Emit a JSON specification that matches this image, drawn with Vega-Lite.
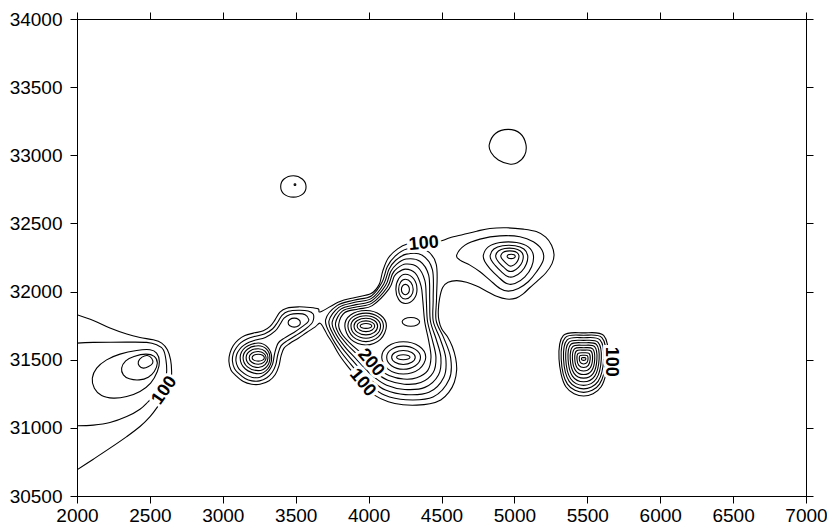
{
"$schema":"https://vega.github.io/schema/vega-lite/v6.json",
"width":729,"height":477,
"autosize":{"type":"none"},
"padding":{"left":77,"top":19,"right":21,"bottom":33},
"background":"white",
"config":{"view":{"stroke":"black","strokeWidth":1},
"axis":{"grid":false,"title":null,"domainColor":"black","tickColor":"black","labelColor":"black","labelFont":"Liberation Sans","labelFontSize":19,"tickSize":7,"labelPadding":3,"domainWidth":1,"tickWidth":1,"labelFlush":false,"labelOverlap":false,"labelBound":false},
"axisLeft":{"labelPadding":8},
"axisBottom":{"labelPadding":3}},
"resolve":{"axis":{"x":"independent","y":"independent"}},
"datasets":{
"o":[
{"g":"a1","x":2000,"y":31830},{"g":"a1","x":2112,"y":31788},{"g":"a1","x":2226,"y":31732},{"g":"a1","x":2341,"y":31688},{"g":"a1","x":2432,"y":31663},{"g":"a1","x":2523,"y":31646},{"g":"a1","x":2581,"y":31622},{"g":"a1","x":2620,"y":31573},{"g":"a1","x":2642,"y":31499},{"g":"a1","x":2649,"y":31414},{"g":"a1","x":2645,"y":31350},{"g":"a1","x":2625,"y":31290},{"g":"a1","x":2590,"y":31220},{"g":"a1","x":2551,"y":31152},{"g":"a1","x":2501,"y":31083},{"g":"a1","x":2432,"y":31010},{"g":"a1","x":2341,"y":30936},{"g":"a1","x":2226,"y":30851},{"g":"a1","x":2112,"y":30770},{"g":"a1","x":2000,"y":30692},
{"g":"a2","x":2000,"y":31622},{"g":"a2","x":2112,"y":31627},{"g":"a2","x":2341,"y":31629},{"g":"a2","x":2478,"y":31627},{"g":"a2","x":2546,"y":31609},{"g":"a2","x":2592,"y":31573},{"g":"a2","x":2610,"y":31499},{"g":"a2","x":2615,"y":31414},{"g":"a2","x":2605,"y":31340},{"g":"a2","x":2570,"y":31275},{"g":"a2","x":2523,"y":31225},{"g":"a2","x":2489,"y":31193},{"g":"a2","x":2432,"y":31137},{"g":"a2","x":2341,"y":31083},{"g":"a2","x":2226,"y":31039},{"g":"a2","x":2112,"y":31020},{"g":"a2","x":2000,"y":31015}
],
"c":[
{"g":"le1","x":2105,"y":31365},{"g":"le1","x":2135,"y":31438},{"g":"le1","x":2203,"y":31499},{"g":"le1","x":2295,"y":31541},{"g":"le1","x":2409,"y":31568},{"g":"le1","x":2501,"y":31573},{"g":"le1","x":2546,"y":31548},{"g":"le1","x":2565,"y":31487},{"g":"le1","x":2551,"y":31414},{"g":"le1","x":2505,"y":31328},{"g":"le1","x":2432,"y":31267},{"g":"le1","x":2341,"y":31230},{"g":"le1","x":2249,"y":31218},{"g":"le1","x":2169,"y":31237},{"g":"le1","x":2119,"y":31291},
{"g":"le2","x":2306,"y":31438},{"g":"le2","x":2334,"y":31492},{"g":"le2","x":2391,"y":31524},{"g":"le2","x":2473,"y":31541},{"g":"le2","x":2530,"y":31524},{"g":"le2","x":2551,"y":31475},{"g":"le2","x":2530,"y":31414},{"g":"le2","x":2489,"y":31372},{"g":"le2","x":2427,"y":31352},{"g":"le2","x":2359,"y":31360},{"g":"le2","x":2318,"y":31389},
{"g":"le3","x":2421,"y":31487},{"g":"le3","x":2446,"y":31519},{"g":"le3","x":2482,"y":31531},{"g":"le3","x":2512,"y":31511},{"g":"le3","x":2519,"y":31475},{"g":"le3","x":2491,"y":31450},{"g":"le3","x":2455,"y":31438},{"g":"le3","x":2427,"y":31455},
{"g":"s1","x":3484,"y":32850},{"g":"s1","x":3545,"y":32826},{"g":"s1","x":3571,"y":32771},{"g":"s1","x":3548,"y":32715},{"g":"s1","x":3484,"y":32693},{"g":"s1","x":3420,"y":32715},{"g":"s1","x":3397,"y":32771},{"g":"s1","x":3420,"y":32826},
{"g":"s1d","x":3495,"y":32790},{"g":"s1d","x":3501,"y":32784},{"g":"s1d","x":3495,"y":32778},{"g":"s1d","x":3489,"y":32784},
{"g":"s2","x":4958,"y":33190},{"g":"s2","x":5040,"y":33160},{"g":"s2","x":5079,"y":33080},{"g":"s2","x":5070,"y":33000},{"g":"s2","x":5020,"y":32945},{"g":"s2","x":4965,"y":32936},{"g":"s2","x":4890,"y":32965},{"g":"s2","x":4840,"y":33020},{"g":"s2","x":4828,"y":33080},{"g":"s2","x":4870,"y":33160},
{"g":"c100","x":3672,"y":31852},{"g":"c100","x":3799,"y":31926},{"g":"c100","x":3908,"y":31957},{"g":"c100","x":4017,"y":31986},{"g":"c100","x":4072,"y":32051},{"g":"c100","x":4097,"y":32150},{"g":"c100","x":4134,"y":32245},{"g":"c100","x":4199,"y":32313},{"g":"c100","x":4265,"y":32349},{"g":"c100","x":4380,"y":32360},{"g":"c100","x":4501,"y":32373},{"g":"c100","x":4558,"y":32395},{"g":"c100","x":4649,"y":32419},{"g":"c100","x":4741,"y":32443},{"g":"c100","x":4832,"y":32463},{"g":"c100","x":4947,"y":32468},{"g":"c100","x":5061,"y":32458},{"g":"c100","x":5150,"y":32440},{"g":"c100","x":5215,"y":32400},{"g":"c100","x":5255,"y":32340},{"g":"c100","x":5272,"y":32270},{"g":"c100","x":5258,"y":32205},{"g":"c100","x":5218,"y":32140},{"g":"c100","x":5160,"y":32080},{"g":"c100","x":5107,"y":32030},{"g":"c100","x":5062,"y":31985},{"g":"c100","x":5012,"y":31952},{"g":"c100","x":4947,"y":31945},{"g":"c100","x":4878,"y":31965},{"g":"c100","x":4809,"y":32003},{"g":"c100","x":4741,"y":32040},{"g":"c100","x":4672,"y":32068},{"g":"c100","x":4604,"y":32080},{"g":"c100","x":4545,"y":32068},{"g":"c100","x":4508,"y":32030},{"g":"c100","x":4487,"y":31950},{"g":"c100","x":4478,"y":31860},{"g":"c100","x":4482,"y":31790},{"g":"c100","x":4501,"y":31727},{"g":"c100","x":4540,"y":31670},{"g":"c100","x":4574,"y":31597},{"g":"c100","x":4597,"y":31511},{"g":"c100","x":4604,"y":31425},{"g":"c100","x":4588,"y":31335},{"g":"c100","x":4550,"y":31260},{"g":"c100","x":4495,"y":31205},{"g":"c100","x":4420,"y":31177},{"g":"c100","x":4330,"y":31167},{"g":"c100","x":4236,"y":31170},{"g":"c100","x":4135,"y":31192},{"g":"c100","x":4040,"y":31240},{"g":"c100","x":3962,"y":31320},{"g":"c100","x":3905,"y":31390},{"g":"c100","x":3854,"y":31455},{"g":"c100","x":3799,"y":31535},{"g":"c100","x":3756,"y":31615},{"g":"c100","x":3719,"y":31678},{"g":"c100","x":3697,"y":31722},{"g":"c100","x":3667,"y":31768},{"g":"c100","x":3632,"y":31739},{"g":"c100","x":3575,"y":31700},{"g":"c100","x":3518,"y":31658},{"g":"c100","x":3461,"y":31621},{"g":"c100","x":3420,"y":31585},{"g":"c100","x":3400,"y":31530},{"g":"c100","x":3385,"y":31455},{"g":"c100","x":3360,"y":31392},{"g":"c100","x":3318,"y":31346},{"g":"c100","x":3255,"y":31320},{"g":"c100","x":3198,"y":31320},{"g":"c100","x":3141,"y":31340},{"g":"c100","x":3084,"y":31389},{"g":"c100","x":3056,"y":31425},{"g":"c100","x":3042,"y":31487},{"g":"c100","x":3049,"y":31548},{"g":"c100","x":3072,"y":31604},{"g":"c100","x":3106,"y":31646},{"g":"c100","x":3152,"y":31677},{"g":"c100","x":3209,"y":31695},{"g":"c100","x":3278,"y":31712},{"g":"c100","x":3324,"y":31744},{"g":"c100","x":3358,"y":31792},{"g":"c100","x":3392,"y":31849},{"g":"c100","x":3438,"y":31878},{"g":"c100","x":3518,"y":31888},{"g":"c100","x":3598,"y":31883},{"g":"c100","x":3655,"y":31873},
{"g":"l150","x":3622,"y":31795},{"g":"l150","x":3608,"y":31764},{"g":"l150","x":3563,"y":31722},{"g":"l150","x":3503,"y":31679},{"g":"l150","x":3443,"y":31640},{"g":"l150","x":3400,"y":31603},{"g":"l150","x":3378,"y":31540},{"g":"l150","x":3363,"y":31462},{"g":"l150","x":3338,"y":31406},{"g":"l150","x":3302,"y":31368},{"g":"l150","x":3252,"y":31345},{"g":"l150","x":3200,"y":31345},{"g":"l150","x":3153,"y":31362},{"g":"l150","x":3103,"y":31405},{"g":"l150","x":3080,"y":31435},{"g":"l150","x":3066,"y":31490},{"g":"l150","x":3072,"y":31545},{"g":"l150","x":3094,"y":31590},{"g":"l150","x":3124,"y":31625},{"g":"l150","x":3166,"y":31652},{"g":"l150","x":3216,"y":31670},{"g":"l150","x":3285,"y":31688},{"g":"l150","x":3342,"y":31727},{"g":"l150","x":3376,"y":31775},{"g":"l150","x":3406,"y":31826},{"g":"l150","x":3450,"y":31855},{"g":"l150","x":3518,"y":31863},{"g":"l150","x":3585,"y":31858},{"g":"l150","x":3620,"y":31835},
{"g":"l200","x":3590,"y":31795},{"g":"l200","x":3578,"y":31770},{"g":"l200","x":3545,"y":31743},{"g":"l200","x":3488,"y":31700},{"g":"l200","x":3425,"y":31660},{"g":"l200","x":3380,"y":31622},{"g":"l200","x":3357,"y":31552},{"g":"l200","x":3342,"y":31470},{"g":"l200","x":3318,"y":31422},{"g":"l200","x":3286,"y":31390},{"g":"l200","x":3250,"y":31370},{"g":"l200","x":3203,"y":31370},{"g":"l200","x":3167,"y":31385},{"g":"l200","x":3122,"y":31420},{"g":"l200","x":3103,"y":31446},{"g":"l200","x":3090,"y":31492},{"g":"l200","x":3096,"y":31540},{"g":"l200","x":3116,"y":31577},{"g":"l200","x":3143,"y":31605},{"g":"l200","x":3180,"y":31628},{"g":"l200","x":3225,"y":31645},{"g":"l200","x":3292,"y":31663},{"g":"l200","x":3360,"y":31712},{"g":"l200","x":3394,"y":31762},{"g":"l200","x":3420,"y":31805},{"g":"l200","x":3462,"y":31832},{"g":"l200","x":3518,"y":31838},{"g":"l200","x":3565,"y":31830},
{"g":"p8","x":3490,"y":31805},{"g":"p8","x":3520,"y":31795},{"g":"p8","x":3532,"y":31772},{"g":"p8","x":3520,"y":31749},{"g":"p8","x":3490,"y":31739},{"g":"p8","x":3460,"y":31749},{"g":"p8","x":3448,"y":31772},{"g":"p8","x":3460,"y":31795},
{"g":"p7k3","x":3243,"y":31623},{"g":"p7k3","x":3308,"y":31591},{"g":"p7k3","x":3335,"y":31515},{"g":"p7k3","x":3308,"y":31432},{"g":"p7k3","x":3243,"y":31397},{"g":"p7k3","x":3155,"y":31432},{"g":"p7k3","x":3119,"y":31515},{"g":"p7k3","x":3155,"y":31591},
{"g":"p7k4","x":3243,"y":31602},{"g":"p7k4","x":3300,"y":31577},{"g":"p7k4","x":3323,"y":31515},{"g":"p7k4","x":3300,"y":31448},{"g":"p7k4","x":3243,"y":31420},{"g":"p7k4","x":3169,"y":31448},{"g":"p7k4","x":3139,"y":31515},{"g":"p7k4","x":3169,"y":31577},
{"g":"p7k5","x":3243,"y":31581},{"g":"p7k5","x":3290,"y":31562},{"g":"p7k5","x":3310,"y":31515},{"g":"p7k5","x":3290,"y":31464},{"g":"p7k5","x":3243,"y":31443},{"g":"p7k5","x":3184,"y":31464},{"g":"p7k5","x":3160,"y":31515},{"g":"p7k5","x":3184,"y":31562},
{"g":"p7k6","x":3243,"y":31560},{"g":"p7k6","x":3281,"y":31547},{"g":"p7k6","x":3297,"y":31515},{"g":"p7k6","x":3281,"y":31481},{"g":"p7k6","x":3243,"y":31467},{"g":"p7k6","x":3199,"y":31481},{"g":"p7k6","x":3181,"y":31515},{"g":"p7k6","x":3199,"y":31547},
{"g":"p7k7","x":3243,"y":31540},{"g":"p7k7","x":3273,"y":31533},{"g":"p7k7","x":3285,"y":31515},{"g":"p7k7","x":3273,"y":31497},{"g":"p7k7","x":3243,"y":31490},{"g":"p7k7","x":3213,"y":31497},{"g":"p7k7","x":3201,"y":31515},{"g":"p7k7","x":3213,"y":31533},
{"g":"ce1","x":3705,"y":31792},{"g":"ce1","x":3783,"y":31897},{"g":"ce1","x":3898,"y":31937},{"g":"ce1","x":4019,"y":31968},{"g":"ce1","x":4092,"y":32068},{"g":"ce1","x":4128,"y":32182},{"g":"ce1","x":4182,"y":32260},{"g":"ce1","x":4262,"y":32312},{"g":"ce1","x":4384,"y":32311},{"g":"ce1","x":4464,"y":32200},{"g":"ce1","x":4466,"y":31954},{"g":"ce1","x":4463,"y":31788},{"g":"ce1","x":4514,"y":31664},{"g":"ce1","x":4563,"y":31512},{"g":"ce1","x":4553,"y":31356},{"g":"ce1","x":4442,"y":31226},{"g":"ce1","x":4256,"y":31206},{"g":"ce1","x":4108,"y":31241},{"g":"ce1","x":4004,"y":31319},{"g":"ce1","x":3947,"y":31380},{"g":"ce1","x":3877,"y":31468},{"g":"ce1","x":3806,"y":31564},{"g":"ce1","x":3743,"y":31674},
{"g":"ce2","x":3728,"y":31784},{"g":"ce2","x":3796,"y":31884},{"g":"ce2","x":3906,"y":31921},{"g":"ce2","x":4020,"y":31950},{"g":"ce2","x":4104,"y":32056},{"g":"ce2","x":4140,"y":32164},{"g":"ce2","x":4186,"y":32230},{"g":"ce2","x":4260,"y":32275},{"g":"ce2","x":4368,"y":32267},{"g":"ce2","x":4438,"y":32160},{"g":"ce2","x":4443,"y":31948},{"g":"ce2","x":4443,"y":31786},{"g":"ce2","x":4489,"y":31658},{"g":"ce2","x":4529,"y":31514},{"g":"ce2","x":4516,"y":31372},{"g":"ce2","x":4414,"y":31261},{"g":"ce2","x":4252,"y":31244},{"g":"ce2","x":4116,"y":31277},{"g":"ce2","x":4018,"y":31348},{"g":"ce2","x":3964,"y":31404},{"g":"ce2","x":3894,"y":31489},{"g":"ce2","x":3823,"y":31579},{"g":"ce2","x":3761,"y":31679},
{"g":"ce3","x":3750,"y":31776},{"g":"ce3","x":3809,"y":31871},{"g":"ce3","x":3914,"y":31904},{"g":"ce3","x":4022,"y":31933},{"g":"ce3","x":4116,"y":32044},{"g":"ce3","x":4151,"y":32146},{"g":"ce3","x":4191,"y":32200},{"g":"ce3","x":4257,"y":32239},{"g":"ce3","x":4352,"y":32223},{"g":"ce3","x":4412,"y":32120},{"g":"ce3","x":4419,"y":31942},{"g":"ce3","x":4424,"y":31784},{"g":"ce3","x":4463,"y":31652},{"g":"ce3","x":4496,"y":31515},{"g":"ce3","x":4479,"y":31388},{"g":"ce3","x":4386,"y":31297},{"g":"ce3","x":4248,"y":31282},{"g":"ce3","x":4124,"y":31313},{"g":"ce3","x":4032,"y":31377},{"g":"ce3","x":3981,"y":31429},{"g":"ce3","x":3911,"y":31510},{"g":"ce3","x":3839,"y":31593},{"g":"ce3","x":3779,"y":31683},
{"g":"ce4","x":3773,"y":31768},{"g":"ce4","x":3822,"y":31858},{"g":"ce4","x":3922,"y":31888},{"g":"ce4","x":4023,"y":31915},{"g":"ce4","x":4128,"y":32032},{"g":"ce4","x":4163,"y":32128},{"g":"ce4","x":4195,"y":32170},{"g":"ce4","x":4255,"y":32202},{"g":"ce4","x":4336,"y":32179},{"g":"ce4","x":4386,"y":32080},{"g":"ce4","x":4396,"y":31936},{"g":"ce4","x":4404,"y":31782},{"g":"ce4","x":4437,"y":31646},{"g":"ce4","x":4462,"y":31517},{"g":"ce4","x":4442,"y":31404},{"g":"ce4","x":4358,"y":31332},{"g":"ce4","x":4244,"y":31320},{"g":"ce4","x":4132,"y":31349},{"g":"ce4","x":4046,"y":31406},{"g":"ce4","x":3998,"y":31453},{"g":"ce4","x":3928,"y":31531},{"g":"ce4","x":3856,"y":31608},{"g":"ce4","x":3797,"y":31688},
{"g":"ce5","x":3795,"y":31760},{"g":"ce5","x":3835,"y":31845},{"g":"ce5","x":3930,"y":31872},{"g":"ce5","x":4025,"y":31897},{"g":"ce5","x":4140,"y":32020},{"g":"ce5","x":4175,"y":32110},{"g":"ce5","x":4200,"y":32140},{"g":"ce5","x":4252,"y":32165},{"g":"ce5","x":4320,"y":32135},{"g":"ce5","x":4360,"y":32040},{"g":"ce5","x":4372,"y":31930},{"g":"ce5","x":4385,"y":31780},{"g":"ce5","x":4412,"y":31640},{"g":"ce5","x":4428,"y":31518},{"g":"ce5","x":4405,"y":31420},{"g":"ce5","x":4330,"y":31368},{"g":"ce5","x":4240,"y":31358},{"g":"ce5","x":4140,"y":31385},{"g":"ce5","x":4060,"y":31435},{"g":"ce5","x":4015,"y":31478},{"g":"ce5","x":3945,"y":31552},{"g":"ce5","x":3872,"y":31622},{"g":"ce5","x":3815,"y":31692},
{"g":"p1k0","x":3982,"y":31766},{"g":"p1k0","x":4010,"y":31761},{"g":"p1k0","x":4022,"y":31748},{"g":"p1k0","x":4010,"y":31735},{"g":"p1k0","x":3982,"y":31730},{"g":"p1k0","x":3954,"y":31735},{"g":"p1k0","x":3942,"y":31748},{"g":"p1k0","x":3954,"y":31761},
{"g":"p1k1","x":3982,"y":31785},{"g":"p1k1","x":4024,"y":31774},{"g":"p1k1","x":4042,"y":31748},{"g":"p1k1","x":4024,"y":31718},{"g":"p1k1","x":3982,"y":31706},{"g":"p1k1","x":3939,"y":31718},{"g":"p1k1","x":3921,"y":31748},{"g":"p1k1","x":3938,"y":31774},
{"g":"p1k2","x":3982,"y":31804},{"g":"p1k2","x":4039,"y":31788},{"g":"p1k2","x":4062,"y":31748},{"g":"p1k2","x":4039,"y":31701},{"g":"p1k2","x":3982,"y":31682},{"g":"p1k2","x":3924,"y":31701},{"g":"p1k2","x":3900,"y":31748},{"g":"p1k2","x":3923,"y":31788},
{"g":"p1k3","x":3982,"y":31823},{"g":"p1k3","x":4053,"y":31801},{"g":"p1k3","x":4082,"y":31748},{"g":"p1k3","x":4053,"y":31684},{"g":"p1k3","x":3982,"y":31658},{"g":"p1k3","x":3909,"y":31684},{"g":"p1k3","x":3879,"y":31748},{"g":"p1k3","x":3907,"y":31801},
{"g":"p1k4","x":3982,"y":31842},{"g":"p1k4","x":4067,"y":31814},{"g":"p1k4","x":4102,"y":31748},{"g":"p1k4","x":4067,"y":31667},{"g":"p1k4","x":3982,"y":31633},{"g":"p1k4","x":3894,"y":31667},{"g":"p1k4","x":3858,"y":31748},{"g":"p1k4","x":3892,"y":31814},
{"g":"p1k5","x":3982,"y":31861},{"g":"p1k5","x":4081,"y":31828},{"g":"p1k5","x":4122,"y":31748},{"g":"p1k5","x":4081,"y":31649},{"g":"p1k5","x":3982,"y":31608},{"g":"p1k5","x":3879,"y":31649},{"g":"p1k5","x":3837,"y":31748},{"g":"p1k5","x":3876,"y":31828},
{"g":"p2k0","x":4252,"y":32053},{"g":"p2k0","x":4272,"y":32042},{"g":"p2k0","x":4280,"y":32015},{"g":"p2k0","x":4272,"y":31988},{"g":"p2k0","x":4252,"y":31977},{"g":"p2k0","x":4233,"y":31988},{"g":"p2k0","x":4225,"y":32015},{"g":"p2k0","x":4233,"y":32042},
{"g":"p2k1","x":4252,"y":32090},{"g":"p2k1","x":4290,"y":32068},{"g":"p2k1","x":4306,"y":32015},{"g":"p2k1","x":4290,"y":31966},{"g":"p2k1","x":4252,"y":31945},{"g":"p2k1","x":4219,"y":31966},{"g":"p2k1","x":4206,"y":32015},{"g":"p2k1","x":4219,"y":32068},
{"g":"p2k2","x":4252,"y":32127},{"g":"p2k2","x":4309,"y":32094},{"g":"p2k2","x":4332,"y":32015},{"g":"p2k2","x":4309,"y":31943},{"g":"p2k2","x":4252,"y":31913},{"g":"p2k2","x":4206,"y":31943},{"g":"p2k2","x":4187,"y":32015},{"g":"p2k2","x":4206,"y":32094},
{"g":"p3k0","x":4238,"y":31536},{"g":"p3k0","x":4271,"y":31531},{"g":"p3k0","x":4284,"y":31518},{"g":"p3k0","x":4271,"y":31505},{"g":"p3k0","x":4238,"y":31500},{"g":"p3k0","x":4205,"y":31505},{"g":"p3k0","x":4192,"y":31518},{"g":"p3k0","x":4205,"y":31531},
{"g":"p3k1","x":4238,"y":31568},{"g":"p3k1","x":4296,"y":31553},{"g":"p3k1","x":4320,"y":31518},{"g":"p3k1","x":4296,"y":31481},{"g":"p3k1","x":4238,"y":31465},{"g":"p3k1","x":4181,"y":31481},{"g":"p3k1","x":4158,"y":31518},{"g":"p3k1","x":4181,"y":31553},
{"g":"p3k2","x":4238,"y":31600},{"g":"p3k2","x":4321,"y":31576},{"g":"p3k2","x":4356,"y":31518},{"g":"p3k2","x":4321,"y":31456},{"g":"p3k2","x":4238,"y":31430},{"g":"p3k2","x":4157,"y":31456},{"g":"p3k2","x":4124,"y":31518},{"g":"p3k2","x":4157,"y":31576},
{"g":"p3k3","x":4238,"y":31632},{"g":"p3k3","x":4347,"y":31599},{"g":"p3k3","x":4392,"y":31518},{"g":"p3k3","x":4347,"y":31431},{"g":"p3k3","x":4238,"y":31395},{"g":"p3k3","x":4133,"y":31431},{"g":"p3k3","x":4090,"y":31518},{"g":"p3k3","x":4133,"y":31599},
{"g":"p4","x":4290,"y":31810},{"g":"p4","x":4332,"y":31801},{"g":"p4","x":4350,"y":31778},{"g":"p4","x":4332,"y":31755},{"g":"p4","x":4290,"y":31746},{"g":"p4","x":4248,"y":31755},{"g":"p4","x":4230,"y":31778},{"g":"p4","x":4248,"y":31801},
{"g":"p5a","x":4604,"y":32267},{"g":"p5a","x":4661,"y":32341},{"g":"p5a","x":4764,"y":32385},{"g":"p5a","x":4901,"y":32409},{"g":"p5a","x":5038,"y":32402},{"g":"p5a","x":5130,"y":32365},{"g":"p5a","x":5190,"y":32304},{"g":"p5a","x":5198,"y":32231},{"g":"p5a","x":5152,"y":32145},{"g":"p5a","x":5095,"y":32072},{"g":"p5a","x":5027,"y":32023},{"g":"p5a","x":4958,"y":32003},{"g":"p5a","x":4901,"y":32023},{"g":"p5a","x":4832,"y":32084},{"g":"p5a","x":4764,"y":32145},{"g":"p5a","x":4695,"y":32194},{"g":"p5a","x":4627,"y":32231},
{"g":"p5b","x":4787,"y":32267},{"g":"p5b","x":4821,"y":32328},{"g":"p5b","x":4901,"y":32360},{"g":"p5b","x":5015,"y":32360},{"g":"p5b","x":5095,"y":32328},{"g":"p5b","x":5130,"y":32267},{"g":"p5b","x":5118,"y":32182},{"g":"p5b","x":5072,"y":32108},{"g":"p5b","x":5004,"y":32059},{"g":"p5b","x":4947,"y":32059},{"g":"p5b","x":4889,"y":32108},{"g":"p5b","x":4832,"y":32169},{"g":"p5b","x":4798,"y":32218},
{"g":"p5c","x":4834,"y":32266},{"g":"p5c","x":4859,"y":32312},{"g":"p5c","x":4919,"y":32336},{"g":"p5c","x":5005,"y":32336},{"g":"p5c","x":5065,"y":32312},{"g":"p5c","x":5091,"y":32266},{"g":"p5c","x":5082,"y":32202},{"g":"p5c","x":5048,"y":32146},{"g":"p5c","x":4997,"y":32110},{"g":"p5c","x":4954,"y":32110},{"g":"p5c","x":4910,"y":32146},{"g":"p5c","x":4868,"y":32192},{"g":"p5c","x":4842,"y":32229},
{"g":"p5d","x":4872,"y":32265},{"g":"p5d","x":4890,"y":32298},{"g":"p5d","x":4934,"y":32316},{"g":"p5d","x":4997,"y":32316},{"g":"p5d","x":5041,"y":32298},{"g":"p5d","x":5060,"y":32265},{"g":"p5d","x":5054,"y":32218},{"g":"p5d","x":5028,"y":32177},{"g":"p5d","x":4991,"y":32150},{"g":"p5d","x":4960,"y":32150},{"g":"p5d","x":4928,"y":32177},{"g":"p5d","x":4896,"y":32211},{"g":"p5d","x":4878,"y":32238},
{"g":"p5e","x":4907,"y":32264},{"g":"p5e","x":4920,"y":32286},{"g":"p5e","x":4948,"y":32297},{"g":"p5e","x":4989,"y":32297},{"g":"p5e","x":5018,"y":32286},{"g":"p5e","x":5031,"y":32264},{"g":"p5e","x":5026,"y":32233},{"g":"p5e","x":5010,"y":32207},{"g":"p5e","x":4985,"y":32189},{"g":"p5e","x":4965,"y":32189},{"g":"p5e","x":4944,"y":32207},{"g":"p5e","x":4924,"y":32229},{"g":"p5e","x":4911,"y":32246},
{"g":"p5f","x":4978,"y":32274},{"g":"p5f","x":4998,"y":32270},{"g":"p5f","x":5006,"y":32258},{"g":"p5f","x":4998,"y":32247},{"g":"p5f","x":4978,"y":32242},{"g":"p5f","x":4958,"y":32247},{"g":"p5f","x":4950,"y":32258},{"g":"p5f","x":4958,"y":32270},
{"g":"p6k0","x":5475,"y":31697},{"g":"p6k0","x":5612,"y":31678},{"g":"p6k0","x":5642,"y":31505},{"g":"p6k0","x":5595,"y":31302},{"g":"p6k0","x":5475,"y":31234},{"g":"p6k0","x":5353,"y":31302},{"g":"p6k0","x":5306,"y":31505},{"g":"p6k0","x":5336,"y":31678},
{"g":"p6k1","x":5475,"y":31679},{"g":"p6k1","x":5600,"y":31662},{"g":"p6k1","x":5627,"y":31505},{"g":"p6k1","x":5584,"y":31321},{"g":"p6k1","x":5475,"y":31260},{"g":"p6k1","x":5364,"y":31321},{"g":"p6k1","x":5321,"y":31505},{"g":"p6k1","x":5349,"y":31662},
{"g":"p6k2","x":5475,"y":31661},{"g":"p6k2","x":5587,"y":31645},{"g":"p6k2","x":5612,"y":31505},{"g":"p6k2","x":5574,"y":31341},{"g":"p6k2","x":5475,"y":31286},{"g":"p6k2","x":5376,"y":31341},{"g":"p6k2","x":5337,"y":31505},{"g":"p6k2","x":5362,"y":31645},
{"g":"p6k3","x":5475,"y":31642},{"g":"p6k3","x":5574,"y":31628},{"g":"p6k3","x":5596,"y":31505},{"g":"p6k3","x":5562,"y":31360},{"g":"p6k3","x":5475,"y":31312},{"g":"p6k3","x":5386,"y":31360},{"g":"p6k3","x":5352,"y":31505},{"g":"p6k3","x":5374,"y":31628},
{"g":"p6k4","x":5475,"y":31624},{"g":"p6k4","x":5562,"y":31612},{"g":"p6k4","x":5581,"y":31505},{"g":"p6k4","x":5551,"y":31380},{"g":"p6k4","x":5475,"y":31338},{"g":"p6k4","x":5398,"y":31380},{"g":"p6k4","x":5368,"y":31505},{"g":"p6k4","x":5387,"y":31612},
{"g":"p6k5","x":5475,"y":31606},{"g":"p6k5","x":5550,"y":31596},{"g":"p6k5","x":5566,"y":31505},{"g":"p6k5","x":5541,"y":31400},{"g":"p6k5","x":5475,"y":31365},{"g":"p6k5","x":5409,"y":31400},{"g":"p6k5","x":5383,"y":31505},{"g":"p6k5","x":5400,"y":31596},
{"g":"p6k6","x":5475,"y":31588},{"g":"p6k6","x":5537,"y":31580},{"g":"p6k6","x":5551,"y":31505},{"g":"p6k6","x":5530,"y":31420},{"g":"p6k6","x":5475,"y":31391},{"g":"p6k6","x":5420,"y":31420},{"g":"p6k6","x":5398,"y":31505},{"g":"p6k6","x":5412,"y":31580},
{"g":"p6k7","x":5475,"y":31570},{"g":"p6k7","x":5525,"y":31564},{"g":"p6k7","x":5536,"y":31505},{"g":"p6k7","x":5519,"y":31439},{"g":"p6k7","x":5475,"y":31417},{"g":"p6k7","x":5431,"y":31439},{"g":"p6k7","x":5414,"y":31505},{"g":"p6k7","x":5425,"y":31564},
{"g":"p6k8","x":5475,"y":31551},{"g":"p6k8","x":5512,"y":31546},{"g":"p6k8","x":5520,"y":31505},{"g":"p6k8","x":5507,"y":31459},{"g":"p6k8","x":5475,"y":31443},{"g":"p6k8","x":5442,"y":31459},{"g":"p6k8","x":5429,"y":31505},{"g":"p6k8","x":5437,"y":31546},
{"g":"p6k9","x":5475,"y":31533},{"g":"p6k9","x":5500,"y":31530},{"g":"p6k9","x":5505,"y":31505},{"g":"p6k9","x":5497,"y":31478},{"g":"p6k9","x":5475,"y":31469},{"g":"p6k9","x":5453,"y":31478},{"g":"p6k9","x":5445,"y":31505},{"g":"p6k9","x":5450,"y":31530},
{"g":"p6k10","x":5475,"y":31515},{"g":"p6k10","x":5487,"y":31514},{"g":"p6k10","x":5490,"y":31505},{"g":"p6k10","x":5486,"y":31498},{"g":"p6k10","x":5475,"y":31495},{"g":"p6k10","x":5464,"y":31498},{"g":"p6k10","x":5460,"y":31505},{"g":"p6k10","x":5463,"y":31514}
]},
"layer":[
{"data":{"name":"c"},"mark":{"type":"line","interpolate":"cardinal-closed","color":"black","strokeWidth":1.1,"clip":true},
"encoding":{
"x":{"field":"x","type":"quantitative","scale":{"domain":[2000,7000],"nice":false,"zero":false},"axis":{"orient":"bottom","values":[2000,2500,3000,3500,4000,4500,5000,5500,6000,6500,7000],"format":"d"}},
"y":{"field":"y","type":"quantitative","scale":{"domain":[30500,34000],"nice":false,"zero":false},"axis":{"orient":"left","values":[30500,31000,31500,32000,32500,33000,33500,34000],"format":"d"}},
"detail":{"field":"g"},"order":{"value":null}}},
{"data":{"name":"o"},"mark":{"type":"line","interpolate":"cardinal","color":"black","strokeWidth":1.1,"clip":true},
"encoding":{
"x":{"field":"x","type":"quantitative","scale":{"domain":[2000,7000],"nice":false,"zero":false},"axis":{"orient":"top","values":[2000,2500,3000,3500,4000,4500,5000,5500,6000,6500,7000],"labels":false}},
"y":{"field":"y","type":"quantitative","scale":{"domain":[30500,34000],"nice":false,"zero":false},"axis":{"orient":"right","values":[30500,31000,31500,32000,32500,33000,33500,34000],"labels":false}},
"detail":{"field":"g"},"order":{"value":null}}},
{"data":{"values":[{"t":"100","x":2601,"y":31274}]},"mark":{"type":"text","angle":305,"font":"Liberation Sans","fontSize":18,"fontWeight":"bold","color":"white","stroke":"white","strokeWidth":6,"align":"center","baseline":"middle"},
"encoding":{"x":{"field":"x","type":"quantitative","axis":null},"y":{"field":"y","type":"quantitative","axis":null},"text":{"field":"t"}}},
{"data":{"values":[{"t":"100","x":2601,"y":31274}]},"mark":{"type":"text","angle":305,"font":"Liberation Sans","fontSize":18,"fontWeight":"bold","color":"black","align":"center","baseline":"middle"},
"encoding":{"x":{"field":"x","type":"quantitative","axis":null},"y":{"field":"y","type":"quantitative","axis":null},"text":{"field":"t"}}},
{"data":{"values":[{"t":"100","x":4378,"y":32352}]},"mark":{"type":"text","angle":355,"font":"Liberation Sans","fontSize":18,"fontWeight":"bold","color":"white","stroke":"white","strokeWidth":6,"align":"center","baseline":"middle"},
"encoding":{"x":{"field":"x","type":"quantitative","axis":null},"y":{"field":"y","type":"quantitative","axis":null},"text":{"field":"t"}}},
{"data":{"values":[{"t":"100","x":4378,"y":32352}]},"mark":{"type":"text","angle":355,"font":"Liberation Sans","fontSize":18,"fontWeight":"bold","color":"black","align":"center","baseline":"middle"},
"encoding":{"x":{"field":"x","type":"quantitative","axis":null},"y":{"field":"y","type":"quantitative","axis":null},"text":{"field":"t"}}},
{"data":{"values":[{"t":"200","x":4015,"y":31478},{"t":"100","x":3958,"y":31330}]},"mark":{"type":"text","angle":50,"font":"Liberation Sans","fontSize":18,"fontWeight":"bold","color":"white","stroke":"white","strokeWidth":6,"align":"center","baseline":"middle"},
"encoding":{"x":{"field":"x","type":"quantitative","axis":null},"y":{"field":"y","type":"quantitative","axis":null},"text":{"field":"t"}}},
{"data":{"values":[{"t":"200","x":4015,"y":31478},{"t":"100","x":3958,"y":31330}]},"mark":{"type":"text","angle":50,"font":"Liberation Sans","fontSize":18,"fontWeight":"bold","color":"black","align":"center","baseline":"middle"},
"encoding":{"x":{"field":"x","type":"quantitative","axis":null},"y":{"field":"y","type":"quantitative","axis":null},"text":{"field":"t"}}},
{"data":{"values":[{"t":"100","x":5665,"y":31485}]},"mark":{"type":"text","angle":90,"font":"Liberation Sans","fontSize":18,"fontWeight":"bold","color":"white","stroke":"white","strokeWidth":6,"align":"center","baseline":"middle"},
"encoding":{"x":{"field":"x","type":"quantitative","axis":null},"y":{"field":"y","type":"quantitative","axis":null},"text":{"field":"t"}}},
{"data":{"values":[{"t":"100","x":5665,"y":31485}]},"mark":{"type":"text","angle":90,"font":"Liberation Sans","fontSize":18,"fontWeight":"bold","color":"black","align":"center","baseline":"middle"},
"encoding":{"x":{"field":"x","type":"quantitative","axis":null},"y":{"field":"y","type":"quantitative","axis":null},"text":{"field":"t"}}}
]
}
